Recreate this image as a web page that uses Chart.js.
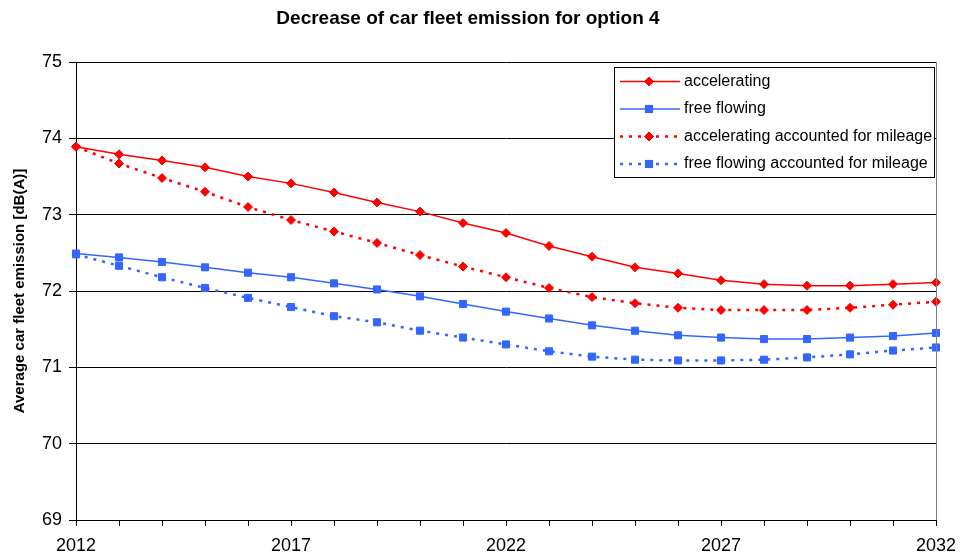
<!DOCTYPE html>
<html>
<head>
<meta charset="utf-8">
<script src="https://cdn.jsdelivr.net/npm/chart.js@4"></script>
<style>
  html, body { margin: 0; padding: 0; background: #fff; }
  canvas { display: block; }
</style>
</head>
<body>
<canvas id="c" width="960" height="558"></canvas>
<script>
const years = ['2012','2013','2014','2015','2016','2017','2018','2019','2020','2021','2022','2023','2024','2025','2026','2027','2028','2029','2030','2031','2032'];
const accelerating = [73.89,73.79,73.71,73.62,73.50,73.41,73.29,73.16,73.04,72.89,72.76,72.59,72.45,72.31,72.23,72.14,72.09,72.07,72.07,72.09,72.11];
const freeFlowing = [72.49,72.44,72.38,72.31,72.24,72.18,72.10,72.02,71.93,71.83,71.73,71.64,71.55,71.48,71.42,71.39,71.37,71.37,71.39,71.41,71.45];
const acceleratingMileage = [73.89,73.67,73.48,73.30,73.10,72.93,72.78,72.63,72.47,72.32,72.18,72.04,71.92,71.84,71.78,71.75,71.75,71.75,71.78,71.82,71.86];
const freeFlowingMileage = [72.48,72.33,72.18,72.04,71.91,71.79,71.67,71.59,71.48,71.39,71.30,71.21,71.14,71.10,71.09,71.09,71.10,71.13,71.17,71.22,71.26];
const seriesNames = ['accelerating','free flowing','accelerating accounted for mileage','free flowing accounted for mileage'];

const FONT = "'Liberation Sans', Arial, sans-serif";
const RED = '#ff0000';
const BLUE = '#3366ff';

const legendPlugin = {
  id: 'boxLegend',
  afterDraw(chart) {
    const ctx = chart.ctx;
    const area = chart.chartArea;
    ctx.save();
    // right border of plot
    ctx.strokeStyle = '#808080';
    ctx.lineWidth = 1;
    ctx.beginPath();
    ctx.moveTo(Math.round(area.right) + 0.5, area.top);
    ctx.lineTo(Math.round(area.right) + 0.5, area.bottom);
    ctx.stroke();
    // legend box
    const bx = 614, by = 67, bw = 320, bh = 110;
    ctx.fillStyle = '#ffffff';
    ctx.fillRect(bx, by, bw, bh);
    ctx.strokeStyle = '#000000';
    ctx.strokeRect(bx + 0.5, by + 0.5, bw, bh);
    const rows = [81.5, 109, 136.5, 164];
    chart.data.datasets.forEach((ds, i) => {
      const y = rows[i];
      ctx.strokeStyle = ds.borderColor;
      ctx.lineWidth = ds.borderWidth;
      ctx.setLineDash(ds.borderDash || []);
      ctx.beginPath();
      ctx.moveTo(620, y);
      ctx.lineTo(680, y);
      ctx.stroke();
      ctx.setLineDash([]);
      ctx.lineWidth = 1;
      Chart.helpers.drawPoint(ctx, {
        pointStyle: ds.pointStyle,
        radius: ds.pointRadius,
        rotation: 0,
        borderWidth: 1
      }, 649, y);
      ctx.fillStyle = ds.pointBackgroundColor;
      ctx.strokeStyle = ds.pointBorderColor;
      ctx.fill();
      ctx.stroke();
      ctx.fillStyle = '#000';
      ctx.font = '16px ' + FONT;
      ctx.textBaseline = 'middle';
      ctx.textAlign = 'left';
      ctx.fillText(ds.label, 684, y);
    });
    ctx.restore();
  }
};

function makeSet(label, data, color, style, radius, dashed) {
  return {
    label: label,
    data: data,
    borderColor: color,
    backgroundColor: color,
    borderWidth: dashed ? 2.5 : 1.5,
    borderDash: dashed ? [3, 6] : [],
    pointStyle: style,
    pointRadius: radius,
    pointHoverRadius: radius,
    pointBackgroundColor: color,
    pointBorderColor: color,
    pointBorderWidth: 1,
    tension: 0,
    fill: false
  };
}

new Chart(document.getElementById('c'), {
  type: 'line',
  data: {
    labels: years,
    datasets: [
      makeSet(seriesNames[0], accelerating, RED, 'rectRot', 4.5, false),
      makeSet(seriesNames[1], freeFlowing, BLUE, 'rect', 5, false),
      makeSet(seriesNames[2], acceleratingMileage, RED, 'rectRot', 4.5, true),
      makeSet(seriesNames[3], freeFlowingMileage, BLUE, 'rect', 5, true)
    ]
  },
  options: {
    responsive: false,
    animation: false,
    devicePixelRatio: 1,
    layout: { padding: { left: 0, right: 24, top: 0, bottom: 0 } },
    plugins: {
      legend: { display: false },
      tooltip: { enabled: false },
      title: {
        display: true,
        text: 'Decrease of car fleet emission for option 4',
        color: '#000',
        font: { family: FONT, size: 19, weight: 'bold', lineHeight: 1.2 },
        padding: { top: 7, bottom: 32.2 }
      }
    },
    scales: {
      x: {
        type: 'category',
        offset: false,
        afterFit(s) { s.height = 38; s.paddingLeft = 0; s.paddingRight = 0; },
        grid: { drawOnChartArea: false, drawTicks: true, tickLength: 6, color: '#000' },
        border: { color: '#000', width: 1 },
        ticks: {
          autoSkip: false,
          maxRotation: 0,
          minRotation: 0,
          padding: 9,
          color: '#000',
          font: { family: FONT, size: 18 },
          callback(v, i) { return i % 5 === 0 ? years[i] : ''; }
        }
      },
      y: {
        min: 69,
        max: 75,
        afterFit(s) { s.width = 76; },
        grid: { color: '#000', lineWidth: 1, drawTicks: true, tickLength: 7 },
        border: { color: '#000', width: 1 },
        ticks: {
          stepSize: 1,
          padding: 7,
          color: '#000',
          font: { family: FONT, size: 18 }
        },
        title: {
          display: true,
          text: 'Average car fleet emission [dB(A)]',
          color: '#000',
          font: { family: FONT, size: 15, weight: 'bold', lineHeight: 1.2 },
          padding: { top: 11, bottom: 0 }
        }
      }
    }
  },
  plugins: [legendPlugin]
});
</script>
</body>
</html>
